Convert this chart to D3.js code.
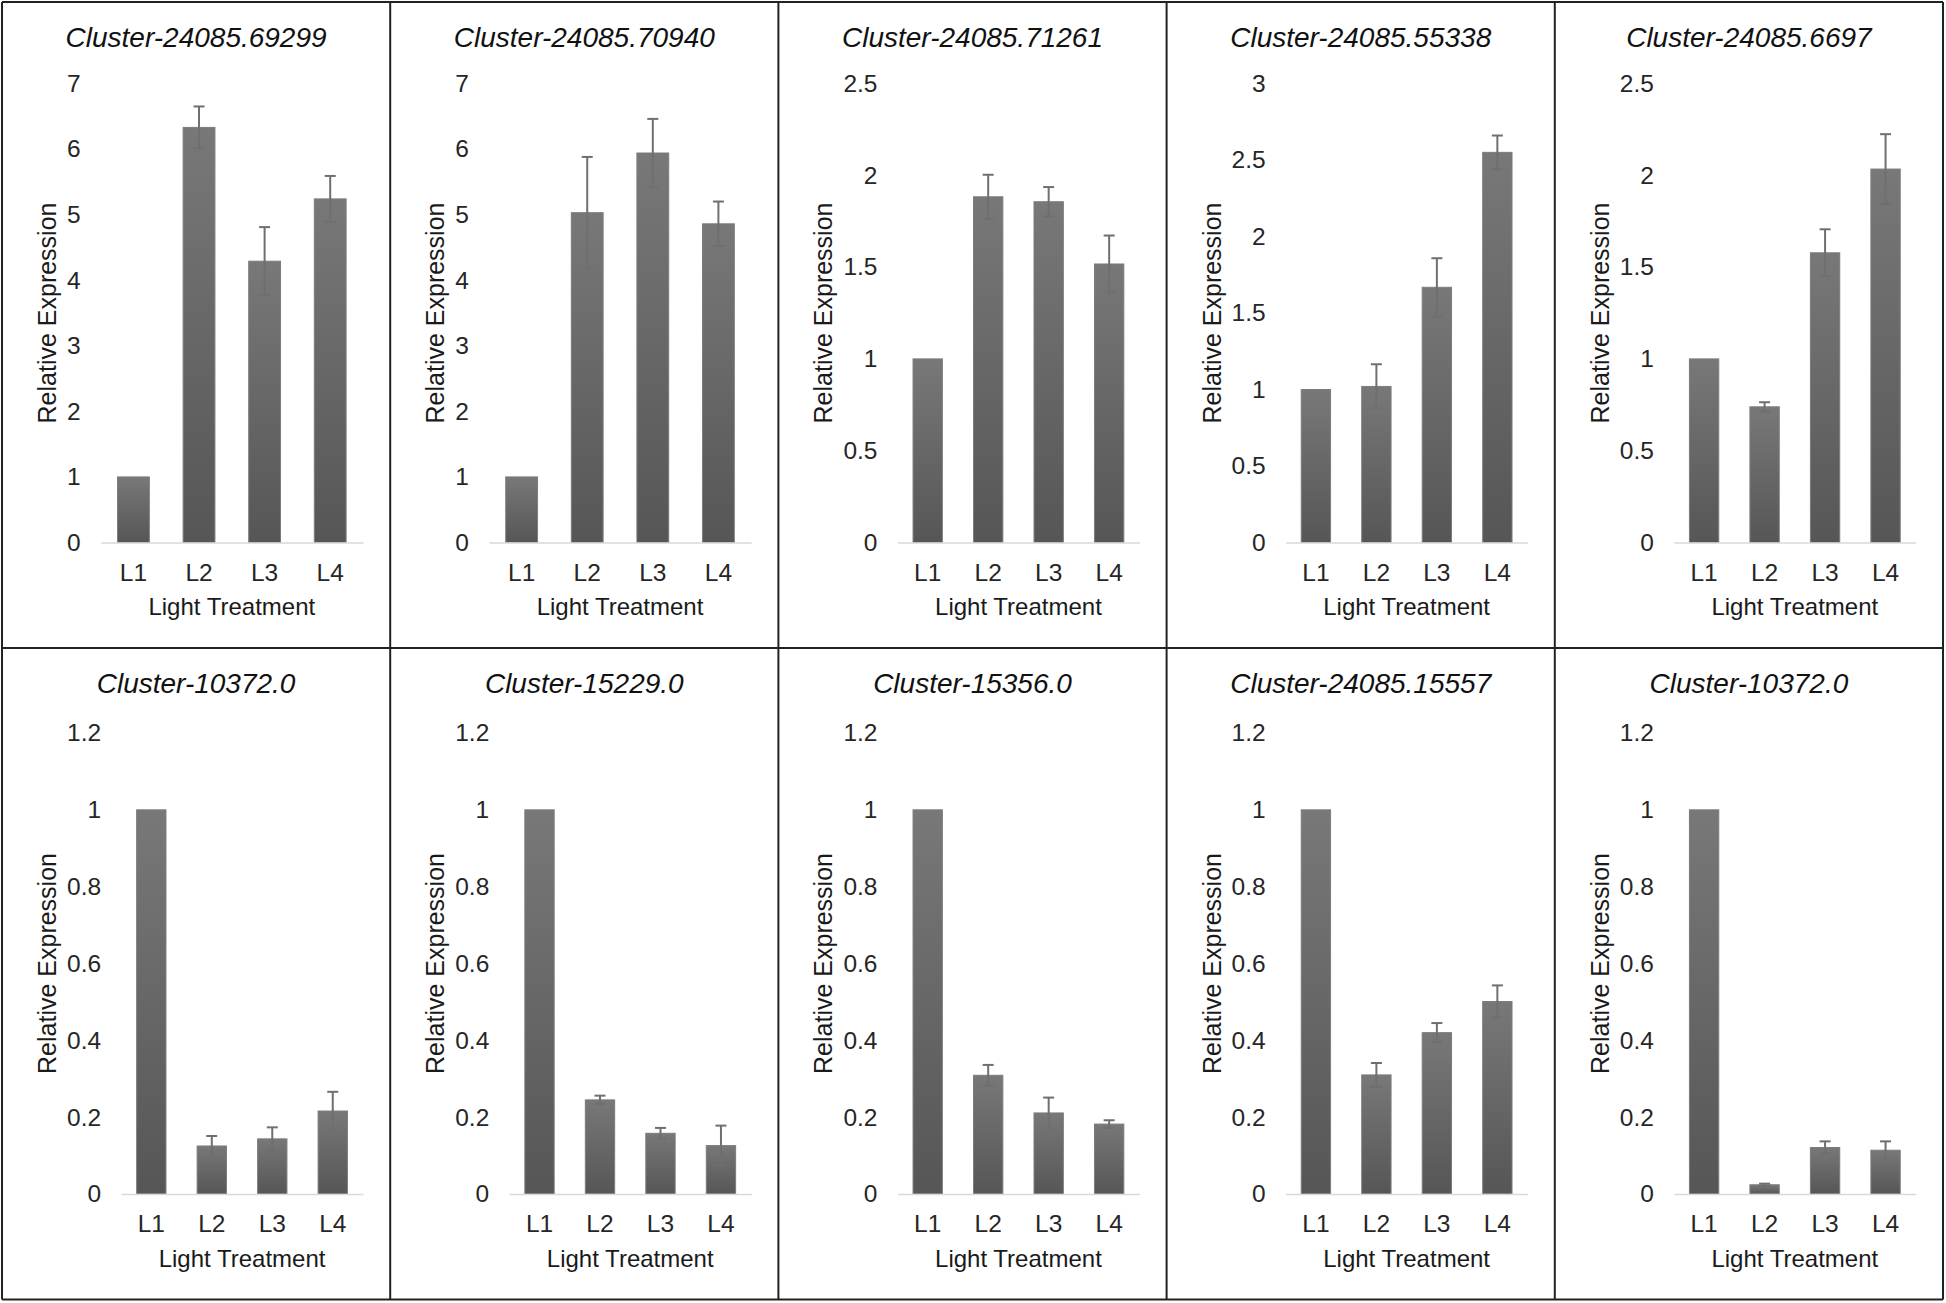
<!DOCTYPE html>
<html>
<head>
<meta charset="utf-8">
<script src="https://cdn.jsdelivr.net/npm/d3@7"></script>
<style>
  html, body { margin: 0; padding: 0; background: #fff; }
  svg { display: block; }
</style>
</head>
<body>
<svg id="chart" width="1946" height="1303"></svg>
<script>
// ---------------- DATA ----------------
const categories = ["L1", "L2", "L3", "L4"];

const titles = [
  "Cluster-24085.69299", "Cluster-24085.70940", "Cluster-24085.71261",
  "Cluster-24085.55338", "Cluster-24085.6697",
  "Cluster-10372.0", "Cluster-15229.0", "Cluster-15356.0",
  "Cluster-24085.15557", "Cluster-10372.0"
];

const means = [
  [1, 6.33, 4.29, 5.24],
  [1, 5.03, 5.94, 4.86],
  [1, 1.883, 1.856, 1.517],
  [1, 1.02, 1.668, 2.55],
  [1, 0.739, 1.578, 2.034],
  [1, 0.125, 0.1435, 0.216],
  [1, 0.245, 0.158, 0.126],
  [1, 0.309, 0.211, 0.182],
  [1, 0.31, 0.42, 0.501],
  [1, 0.024, 0.121, 0.114]
];

const errors = [
  [0, 0.32, 0.52, 0.35],
  [0, 0.85, 0.52, 0.34],
  [0, 0.12, 0.08, 0.155],
  [0, 0.145, 0.19, 0.11],
  [0, 0.025, 0.128, 0.19],
  [0, 0.026, 0.03, 0.05],
  [0, 0.011, 0.014, 0.052],
  [0, 0.027, 0.04, 0.01],
  [0, 0.031, 0.025, 0.042],
  [0, 0.003, 0.016, 0.023]
];

const ticks7 = [0, 1, 2, 3, 4, 5, 6, 7];
const ticks7Labels = ["0", "1", "2", "3", "4", "5", "6", "7"];
const ticks25 = [0, 0.5, 1, 1.5, 2, 2.5];
const ticks25Labels = ["0", "0.5", "1", "1.5", "2", "2.5"];
const ticks3 = [0, 0.5, 1, 1.5, 2, 2.5, 3];
const ticks3Labels = ["0", "0.5", "1", "1.5", "2", "2.5", "3"];
const ticks12 = [0, 0.2, 0.4, 0.6, 0.8, 1, 1.2];
const ticks12Labels = ["0", "0.2", "0.4", "0.6", "0.8", "1", "1.2"];

const panelTicks = [ticks7, ticks7, ticks25, ticks3, ticks25, ticks12, ticks12, ticks12, ticks12, ticks12];
const panelTickLabels = [ticks7Labels, ticks7Labels, ticks25Labels, ticks3Labels, ticks25Labels,
  ticks12Labels, ticks12Labels, ticks12Labels, ticks12Labels, ticks12Labels];

const yTitle = "Relative Expression";
const xTitle = "Light Treatment";

// ---------------- LAYOUT ----------------
const svg = d3.select("#chart");
const FONT = "'Liberation Sans', Arial, Helvetica, sans-serif";
const colLefts = [2, 390.2, 778.4, 1166.6, 1554.8, 1943];
const rows = [{ top: 2, bottom: 648, plotTop: 83.5, plotBottom: 542.5 },
              { top: 648, bottom: 1299.5, plotTop: 733, plotBottom: 1194 }];

const defs = svg.append("defs");
const grad = defs.append("linearGradient").attr("id", "barGrad")
  .attr("x1", 0).attr("y1", 0).attr("x2", 0).attr("y2", 1);
grad.append("stop").attr("offset", "0%").attr("stop-color", "#787878");
grad.append("stop").attr("offset", "100%").attr("stop-color", "#565656");

svg.append("rect").attr("width", 1946).attr("height", 1303).attr("fill", "#fff");

// measurement helper
const meas = svg.append("text").style("font-family", FONT).style("font-size", "24.5px").attr("opacity", 0);
function textW(s) { meas.text(s); return meas.node().getComputedTextLength(); }

titles.forEach((title, i) => {
  const r = Math.floor(i / 5), c = i % 5;
  const row = rows[r];
  const left = colLefts[c];
  const width = colLefts[c + 1] - colLefts[c];
  const g = svg.append("g");

  const tks = panelTicks[i];
  const tkl = panelTickLabels[i];
  const maxW = d3.max(tkl, s => textW(s));
  const axisStart = left + 64 + maxW + 21;
  const axisEnd = left + 361;

  const x = d3.scaleBand().domain(categories).range([axisStart, axisEnd])
    .paddingInner(0.515).paddingOuter(0.2575);
  const y = d3.scaleLinear().domain([0, tks[tks.length - 1]]).range([row.plotBottom, row.plotTop]);

  // title
  g.append("text")
    .attr("x", left + width / 2).attr("y", row.top + 44.5)
    .attr("text-anchor", "middle")
    .style("font-family", FONT).style("font-style", "italic").style("font-size", "28px")
    .attr("fill", "#111").text(title);

  // y axis
  const yAxis = d3.axisLeft(y).tickValues(tks).tickFormat((d, k) => tkl[k])
    .tickSize(0).tickPadding(20);
  const yg = g.append("g").attr("transform", `translate(${axisStart},0)`).call(yAxis);
  yg.select(".domain").remove();
  yg.selectAll("text").style("font-family", FONT).style("font-size", "24.5px").attr("fill", "#262626");

  // bars
  const vals = means[i].map((v, k) => ({ cat: categories[k], v, e: errors[i][k] }));
  g.selectAll("rect.bar").data(vals).join("rect").attr("class", "bar")
    .attr("x", d => x(d.cat)).attr("width", x.bandwidth())
    .attr("y", d => y(d.v)).attr("height", d => y(0) - y(d.v))
    .attr("fill", "url(#barGrad)").attr("stroke", "#7c7c7c").attr("stroke-width", 1);

  // error bars
  const eb = g.selectAll("g.err").data(vals.filter(d => d.e > 0)).join("g").attr("class", "err")
    .attr("stroke", "#6f6f6f").attr("stroke-width", 2);
  eb.append("line")
    .attr("x1", d => x(d.cat) + x.bandwidth() / 2).attr("x2", d => x(d.cat) + x.bandwidth() / 2)
    .attr("y1", d => y(d.v + d.e)).attr("y2", d => y(d.v - d.e));
  eb.append("line")
    .attr("x1", d => x(d.cat) + x.bandwidth() / 2 - 5.5).attr("x2", d => x(d.cat) + x.bandwidth() / 2 + 5.5)
    .attr("y1", d => y(d.v + d.e)).attr("y2", d => y(d.v + d.e));
  eb.append("line")
    .attr("x1", d => x(d.cat) + x.bandwidth() / 2 - 5.5).attr("x2", d => x(d.cat) + x.bandwidth() / 2 + 5.5)
    .attr("y1", d => y(d.v - d.e)).attr("y2", d => y(d.v - d.e));

  // x axis
  const xAxis = d3.axisBottom(x).tickSize(0).tickSizeOuter(0).tickPadding(21);
  const xg = g.append("g").attr("transform", `translate(0,${row.plotBottom})`).call(xAxis);
  xg.select(".domain").attr("stroke", "#d9d9d9").attr("stroke-width", 1.5);
  xg.selectAll("text").style("font-family", FONT).style("font-size", "24.5px").attr("fill", "#262626");

  // axis titles
  g.append("text")
    .attr("x", (axisStart + axisEnd) / 2).attr("y", row.plotBottom + 72.5)
    .attr("text-anchor", "middle")
    .style("font-family", FONT).style("font-size", "24px").attr("fill", "#1a1a1a")
    .text(xTitle);
  g.append("text")
    .attr("transform", `translate(${left + 54},${(row.plotTop + row.plotBottom) / 2}) rotate(-90)`)
    .attr("text-anchor", "middle")
    .style("font-family", FONT).style("font-size", "25px").attr("fill", "#1a1a1a")
    .text(yTitle);
});
meas.remove();

// panel borders
const borderG = svg.append("g").attr("stroke", "#222").attr("stroke-width", 2).attr("fill", "none");
colLefts.forEach(cx => {
  borderG.append("line").attr("x1", cx).attr("x2", cx).attr("y1", rows[0].top).attr("y2", rows[1].bottom);
});
[rows[0].top, rows[1].top, rows[1].bottom].forEach(yy => {
  borderG.append("line").attr("x1", colLefts[0]).attr("x2", colLefts[5]).attr("y1", yy).attr("y2", yy);
});
</script>
</body>
</html>
